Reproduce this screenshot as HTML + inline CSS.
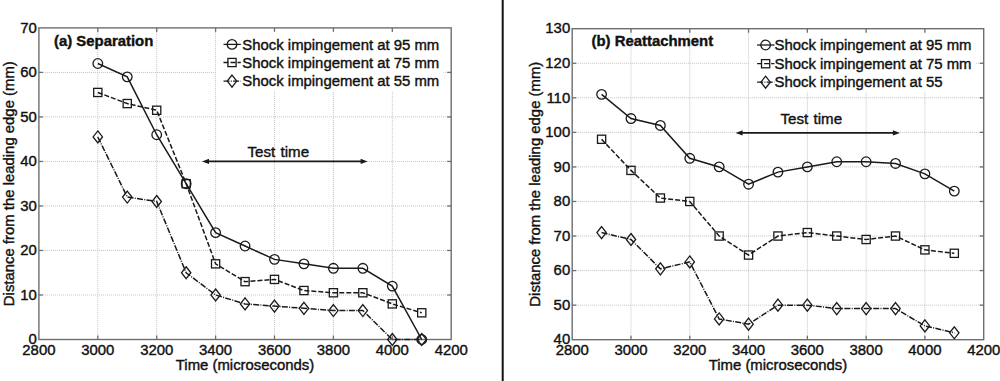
<!DOCTYPE html>
<html><head><meta charset="utf-8"><style>
html,body{margin:0;padding:0;background:#fff;}
body{width:1000px;height:381px;overflow:hidden;}
svg{display:block;}
text{font-family:"Liberation Sans",sans-serif;fill:#111;stroke:#111;stroke-width:0.4px;}
</style></head><body>
<svg width="1000" height="381" viewBox="0 0 1000 381">
<rect width="1000" height="381" fill="#fff"/>
<line x1="502.7" y1="0" x2="502.7" y2="381" stroke="#111" stroke-width="2"/>
<line x1="97.8" y1="27.9" x2="97.8" y2="339.5" stroke="#c2c2c2" stroke-width="1" stroke-dasharray="1 1"/>
<line x1="156.7" y1="27.9" x2="156.7" y2="339.5" stroke="#c2c2c2" stroke-width="1" stroke-dasharray="1 1"/>
<line x1="215.6" y1="27.9" x2="215.6" y2="339.5" stroke="#c2c2c2" stroke-width="1" stroke-dasharray="1 1"/>
<line x1="274.5" y1="27.9" x2="274.5" y2="339.5" stroke="#c2c2c2" stroke-width="1" stroke-dasharray="1 1"/>
<line x1="333.4" y1="27.9" x2="333.4" y2="339.5" stroke="#c2c2c2" stroke-width="1" stroke-dasharray="1 1"/>
<line x1="392.3" y1="27.9" x2="392.3" y2="339.5" stroke="#c2c2c2" stroke-width="1" stroke-dasharray="1 1"/>
<line x1="38.9" y1="294.99" x2="451.2" y2="294.99" stroke="#c2c2c2" stroke-width="1" stroke-dasharray="1 1"/>
<line x1="38.9" y1="250.47" x2="451.2" y2="250.47" stroke="#c2c2c2" stroke-width="1" stroke-dasharray="1 1"/>
<line x1="38.9" y1="205.96" x2="451.2" y2="205.96" stroke="#c2c2c2" stroke-width="1" stroke-dasharray="1 1"/>
<line x1="38.9" y1="161.44" x2="451.2" y2="161.44" stroke="#c2c2c2" stroke-width="1" stroke-dasharray="1 1"/>
<line x1="38.9" y1="116.93" x2="451.2" y2="116.93" stroke="#c2c2c2" stroke-width="1" stroke-dasharray="1 1"/>
<line x1="38.9" y1="72.41" x2="451.2" y2="72.41" stroke="#c2c2c2" stroke-width="1" stroke-dasharray="1 1"/>
<rect x="216.2" y="28.6" width="227.3" height="62.2" fill="#fff"/>
<rect x="38.9" y="27.9" width="412.3" height="311.6" fill="none" stroke="#6e6e6e" stroke-width="1.4"/>
<line x1="97.8" y1="339.5" x2="97.8" y2="335.5" stroke="#6e6e6e" stroke-width="1.3"/>
<line x1="97.8" y1="27.9" x2="97.8" y2="31.9" stroke="#6e6e6e" stroke-width="1.3"/>
<line x1="156.7" y1="339.5" x2="156.7" y2="335.5" stroke="#6e6e6e" stroke-width="1.3"/>
<line x1="156.7" y1="27.9" x2="156.7" y2="31.9" stroke="#6e6e6e" stroke-width="1.3"/>
<line x1="215.6" y1="339.5" x2="215.6" y2="335.5" stroke="#6e6e6e" stroke-width="1.3"/>
<line x1="215.6" y1="27.9" x2="215.6" y2="31.9" stroke="#6e6e6e" stroke-width="1.3"/>
<line x1="274.5" y1="339.5" x2="274.5" y2="335.5" stroke="#6e6e6e" stroke-width="1.3"/>
<line x1="274.5" y1="27.9" x2="274.5" y2="31.9" stroke="#6e6e6e" stroke-width="1.3"/>
<line x1="333.4" y1="339.5" x2="333.4" y2="335.5" stroke="#6e6e6e" stroke-width="1.3"/>
<line x1="333.4" y1="27.9" x2="333.4" y2="31.9" stroke="#6e6e6e" stroke-width="1.3"/>
<line x1="392.3" y1="339.5" x2="392.3" y2="335.5" stroke="#6e6e6e" stroke-width="1.3"/>
<line x1="392.3" y1="27.9" x2="392.3" y2="31.9" stroke="#6e6e6e" stroke-width="1.3"/>
<line x1="38.9" y1="294.99" x2="42.9" y2="294.99" stroke="#6e6e6e" stroke-width="1.3"/>
<line x1="451.2" y1="294.99" x2="447.2" y2="294.99" stroke="#6e6e6e" stroke-width="1.3"/>
<line x1="38.9" y1="250.47" x2="42.9" y2="250.47" stroke="#6e6e6e" stroke-width="1.3"/>
<line x1="451.2" y1="250.47" x2="447.2" y2="250.47" stroke="#6e6e6e" stroke-width="1.3"/>
<line x1="38.9" y1="205.96" x2="42.9" y2="205.96" stroke="#6e6e6e" stroke-width="1.3"/>
<line x1="451.2" y1="205.96" x2="447.2" y2="205.96" stroke="#6e6e6e" stroke-width="1.3"/>
<line x1="38.9" y1="161.44" x2="42.9" y2="161.44" stroke="#6e6e6e" stroke-width="1.3"/>
<line x1="451.2" y1="161.44" x2="447.2" y2="161.44" stroke="#6e6e6e" stroke-width="1.3"/>
<line x1="38.9" y1="116.93" x2="42.9" y2="116.93" stroke="#6e6e6e" stroke-width="1.3"/>
<line x1="451.2" y1="116.93" x2="447.2" y2="116.93" stroke="#6e6e6e" stroke-width="1.3"/>
<line x1="38.9" y1="72.41" x2="42.9" y2="72.41" stroke="#6e6e6e" stroke-width="1.3"/>
<line x1="451.2" y1="72.41" x2="447.2" y2="72.41" stroke="#6e6e6e" stroke-width="1.3"/>
<text x="38.9" y="354.8" text-anchor="middle" font-size="14.9">2800</text>
<text x="97.8" y="354.8" text-anchor="middle" font-size="14.9">3000</text>
<text x="156.7" y="354.8" text-anchor="middle" font-size="14.9">3200</text>
<text x="215.6" y="354.8" text-anchor="middle" font-size="14.9">3400</text>
<text x="274.5" y="354.8" text-anchor="middle" font-size="14.9">3600</text>
<text x="333.4" y="354.8" text-anchor="middle" font-size="14.9">3800</text>
<text x="392.3" y="354.8" text-anchor="middle" font-size="14.9">4000</text>
<text x="451.2" y="354.8" text-anchor="middle" font-size="14.9">4200</text>
<text x="36.9" y="344.2" text-anchor="end" font-size="14.9">0</text>
<text x="36.9" y="299.69" text-anchor="end" font-size="14.9">10</text>
<text x="36.9" y="255.17" text-anchor="end" font-size="14.9">20</text>
<text x="36.9" y="210.66" text-anchor="end" font-size="14.9">30</text>
<text x="36.9" y="166.14" text-anchor="end" font-size="14.9">40</text>
<text x="36.9" y="121.63" text-anchor="end" font-size="14.9">50</text>
<text x="36.9" y="77.11" text-anchor="end" font-size="14.9">60</text>
<text x="36.9" y="32.6" text-anchor="end" font-size="14.9">70</text>
<polyline points="97.8,63.51 127.25,76.87 156.7,134.73 186.15,183.7 215.6,232.67 245.05,246.02 274.5,259.37 303.95,263.83 333.4,268.28 362.85,268.28 392.3,286.08 421.75,339.5" fill="none" stroke="#1a1a1a" stroke-width="1.5" />
<circle cx="97.8" cy="63.51" r="4.8" fill="none" stroke="#1a1a1a" stroke-width="1.3"/>
<circle cx="127.25" cy="76.87" r="4.8" fill="none" stroke="#1a1a1a" stroke-width="1.3"/>
<circle cx="156.7" cy="134.73" r="4.8" fill="none" stroke="#1a1a1a" stroke-width="1.3"/>
<circle cx="186.15" cy="183.7" r="4.8" fill="none" stroke="#1a1a1a" stroke-width="1.3"/>
<circle cx="215.6" cy="232.67" r="4.8" fill="none" stroke="#1a1a1a" stroke-width="1.3"/>
<circle cx="245.05" cy="246.02" r="4.8" fill="none" stroke="#1a1a1a" stroke-width="1.3"/>
<circle cx="274.5" cy="259.37" r="4.8" fill="none" stroke="#1a1a1a" stroke-width="1.3"/>
<circle cx="303.95" cy="263.83" r="4.8" fill="none" stroke="#1a1a1a" stroke-width="1.3"/>
<circle cx="333.4" cy="268.28" r="4.8" fill="none" stroke="#1a1a1a" stroke-width="1.3"/>
<circle cx="362.85" cy="268.28" r="4.8" fill="none" stroke="#1a1a1a" stroke-width="1.3"/>
<circle cx="392.3" cy="286.08" r="4.8" fill="none" stroke="#1a1a1a" stroke-width="1.3"/>
<circle cx="421.75" cy="339.5" r="4.8" fill="none" stroke="#1a1a1a" stroke-width="1.3"/>
<polyline points="97.8,92.45 127.25,103.57 156.7,110.25 186.15,183.7 215.6,263.83 245.05,281.63 274.5,279.41 303.95,290.53 333.4,292.76 362.85,292.76 392.3,303.89 421.75,312.79" fill="none" stroke="#1a1a1a" stroke-width="1.5" stroke-dasharray="5 2"/>
<rect x="93.7" y="88.35" width="8.2" height="8.2" fill="none" stroke="#1a1a1a" stroke-width="1.3"/>
<rect x="123.15" y="99.47" width="8.2" height="8.2" fill="none" stroke="#1a1a1a" stroke-width="1.3"/>
<rect x="152.6" y="106.15" width="8.2" height="8.2" fill="none" stroke="#1a1a1a" stroke-width="1.3"/>
<rect x="182.05" y="179.6" width="8.2" height="8.2" fill="none" stroke="#1a1a1a" stroke-width="1.3"/>
<rect x="211.5" y="259.73" width="8.2" height="8.2" fill="none" stroke="#1a1a1a" stroke-width="1.3"/>
<rect x="240.95" y="277.53" width="8.2" height="8.2" fill="none" stroke="#1a1a1a" stroke-width="1.3"/>
<rect x="270.4" y="275.31" width="8.2" height="8.2" fill="none" stroke="#1a1a1a" stroke-width="1.3"/>
<rect x="299.85" y="286.43" width="8.2" height="8.2" fill="none" stroke="#1a1a1a" stroke-width="1.3"/>
<rect x="329.3" y="288.66" width="8.2" height="8.2" fill="none" stroke="#1a1a1a" stroke-width="1.3"/>
<rect x="358.75" y="288.66" width="8.2" height="8.2" fill="none" stroke="#1a1a1a" stroke-width="1.3"/>
<rect x="388.2" y="299.79" width="8.2" height="8.2" fill="none" stroke="#1a1a1a" stroke-width="1.3"/>
<rect x="417.65" y="308.69" width="8.2" height="8.2" fill="none" stroke="#1a1a1a" stroke-width="1.3"/>
<polyline points="97.8,136.96 127.25,197.05 156.7,201.51 186.15,272.73 215.6,294.99 245.05,303.89 274.5,306.11 303.95,308.34 333.4,310.57 362.85,310.57 392.3,339.5 421.75,339.5" fill="none" stroke="#1a1a1a" stroke-width="1.5" stroke-dasharray="6 1.3 1 1.3"/>
<path d="M97.8 130.96L102.5 136.96L97.8 142.96L93.1 136.96Z" fill="none" stroke="#1a1a1a" stroke-width="1.3"/>
<path d="M127.25 191.05L131.95 197.05L127.25 203.05L122.55 197.05Z" fill="none" stroke="#1a1a1a" stroke-width="1.3"/>
<path d="M156.7 195.51L161.4 201.51L156.7 207.51L152 201.51Z" fill="none" stroke="#1a1a1a" stroke-width="1.3"/>
<path d="M186.15 266.73L190.85 272.73L186.15 278.73L181.45 272.73Z" fill="none" stroke="#1a1a1a" stroke-width="1.3"/>
<path d="M215.6 288.99L220.3 294.99L215.6 300.99L210.9 294.99Z" fill="none" stroke="#1a1a1a" stroke-width="1.3"/>
<path d="M245.05 297.89L249.75 303.89L245.05 309.89L240.35 303.89Z" fill="none" stroke="#1a1a1a" stroke-width="1.3"/>
<path d="M274.5 300.11L279.2 306.11L274.5 312.11L269.8 306.11Z" fill="none" stroke="#1a1a1a" stroke-width="1.3"/>
<path d="M303.95 302.34L308.65 308.34L303.95 314.34L299.25 308.34Z" fill="none" stroke="#1a1a1a" stroke-width="1.3"/>
<path d="M333.4 304.57L338.1 310.57L333.4 316.57L328.7 310.57Z" fill="none" stroke="#1a1a1a" stroke-width="1.3"/>
<path d="M362.85 304.57L367.55 310.57L362.85 316.57L358.15 310.57Z" fill="none" stroke="#1a1a1a" stroke-width="1.3"/>
<path d="M392.3 333.5L397 339.5L392.3 345.5L387.6 339.5Z" fill="none" stroke="#1a1a1a" stroke-width="1.3"/>
<path d="M421.75 333.5L426.45 339.5L421.75 345.5L417.05 339.5Z" fill="none" stroke="#1a1a1a" stroke-width="1.3"/>
<line x1="206" y1="161.4" x2="363.6" y2="161.4" stroke="#1a1a1a" stroke-width="1.6"/>
<path d="M202 161.4L209 158.8L209 164Z" fill="#1a1a1a"/>
<path d="M367.6 161.4L360.6 158.8L360.6 164Z" fill="#1a1a1a"/>
<text x="247.5" y="156.6" font-size="15.1" word-spacing="1.2">Test time</text>
<text x="54" y="45.6" font-size="14.9" font-weight="bold">(a) Separation</text>
<line x1="223.5" y1="44.4" x2="240.8" y2="44.4" stroke="#1a1a1a" stroke-width="1.3" />
<circle cx="232" cy="44.4" r="4.8" fill="none" stroke="#1a1a1a" stroke-width="1.3"/>
<text x="242.3" y="49.6" font-size="14.9">Shock impingement at 95 mm</text>
<line x1="223.5" y1="62.5" x2="240.8" y2="62.5" stroke="#1a1a1a" stroke-width="1.3" stroke-dasharray="5 2"/>
<rect x="227.9" y="58.4" width="8.2" height="8.2" fill="none" stroke="#1a1a1a" stroke-width="1.3"/>
<text x="242.3" y="67.7" font-size="14.9">Shock impingement at 75 mm</text>
<line x1="223.5" y1="81.1" x2="240.8" y2="81.1" stroke="#1a1a1a" stroke-width="1.3" stroke-dasharray="6 1.3 1 1.3"/>
<path d="M232 75.1L236.7 81.1L232 87.1L227.3 81.1Z" fill="none" stroke="#1a1a1a" stroke-width="1.3"/>
<text x="242.3" y="86.3" font-size="14.9">Shock impingement at 55 mm</text>
<text x="245.05" y="369.5" text-anchor="middle" font-size="14.9">Time (microseconds)</text>
<text transform="translate(14.3,183.7) rotate(-90)" text-anchor="middle" font-size="14.9">Distance from the leading edge (mm)</text>
<line x1="630.99" y1="28.7" x2="630.99" y2="339.7" stroke="#c2c2c2" stroke-width="1" stroke-dasharray="1 1"/>
<line x1="689.77" y1="28.7" x2="689.77" y2="339.7" stroke="#c2c2c2" stroke-width="1" stroke-dasharray="1 1"/>
<line x1="748.56" y1="28.7" x2="748.56" y2="339.7" stroke="#c2c2c2" stroke-width="1" stroke-dasharray="1 1"/>
<line x1="807.34" y1="28.7" x2="807.34" y2="339.7" stroke="#c2c2c2" stroke-width="1" stroke-dasharray="1 1"/>
<line x1="866.13" y1="28.7" x2="866.13" y2="339.7" stroke="#c2c2c2" stroke-width="1" stroke-dasharray="1 1"/>
<line x1="924.91" y1="28.7" x2="924.91" y2="339.7" stroke="#c2c2c2" stroke-width="1" stroke-dasharray="1 1"/>
<line x1="572.2" y1="305.14" x2="983.7" y2="305.14" stroke="#c2c2c2" stroke-width="1" stroke-dasharray="1 1"/>
<line x1="572.2" y1="270.59" x2="983.7" y2="270.59" stroke="#c2c2c2" stroke-width="1" stroke-dasharray="1 1"/>
<line x1="572.2" y1="236.03" x2="983.7" y2="236.03" stroke="#c2c2c2" stroke-width="1" stroke-dasharray="1 1"/>
<line x1="572.2" y1="201.48" x2="983.7" y2="201.48" stroke="#c2c2c2" stroke-width="1" stroke-dasharray="1 1"/>
<line x1="572.2" y1="166.92" x2="983.7" y2="166.92" stroke="#c2c2c2" stroke-width="1" stroke-dasharray="1 1"/>
<line x1="572.2" y1="132.37" x2="983.7" y2="132.37" stroke="#c2c2c2" stroke-width="1" stroke-dasharray="1 1"/>
<line x1="572.2" y1="97.81" x2="983.7" y2="97.81" stroke="#c2c2c2" stroke-width="1" stroke-dasharray="1 1"/>
<line x1="572.2" y1="63.26" x2="983.7" y2="63.26" stroke="#c2c2c2" stroke-width="1" stroke-dasharray="1 1"/>
<rect x="749.3" y="29.4" width="226.7" height="62.6" fill="#fff"/>
<rect x="572.2" y="28.7" width="411.5" height="311" fill="none" stroke="#6e6e6e" stroke-width="1.4"/>
<line x1="630.99" y1="339.7" x2="630.99" y2="335.7" stroke="#6e6e6e" stroke-width="1.3"/>
<line x1="630.99" y1="28.7" x2="630.99" y2="32.7" stroke="#6e6e6e" stroke-width="1.3"/>
<line x1="689.77" y1="339.7" x2="689.77" y2="335.7" stroke="#6e6e6e" stroke-width="1.3"/>
<line x1="689.77" y1="28.7" x2="689.77" y2="32.7" stroke="#6e6e6e" stroke-width="1.3"/>
<line x1="748.56" y1="339.7" x2="748.56" y2="335.7" stroke="#6e6e6e" stroke-width="1.3"/>
<line x1="748.56" y1="28.7" x2="748.56" y2="32.7" stroke="#6e6e6e" stroke-width="1.3"/>
<line x1="807.34" y1="339.7" x2="807.34" y2="335.7" stroke="#6e6e6e" stroke-width="1.3"/>
<line x1="807.34" y1="28.7" x2="807.34" y2="32.7" stroke="#6e6e6e" stroke-width="1.3"/>
<line x1="866.13" y1="339.7" x2="866.13" y2="335.7" stroke="#6e6e6e" stroke-width="1.3"/>
<line x1="866.13" y1="28.7" x2="866.13" y2="32.7" stroke="#6e6e6e" stroke-width="1.3"/>
<line x1="924.91" y1="339.7" x2="924.91" y2="335.7" stroke="#6e6e6e" stroke-width="1.3"/>
<line x1="924.91" y1="28.7" x2="924.91" y2="32.7" stroke="#6e6e6e" stroke-width="1.3"/>
<line x1="572.2" y1="305.14" x2="576.2" y2="305.14" stroke="#6e6e6e" stroke-width="1.3"/>
<line x1="983.7" y1="305.14" x2="979.7" y2="305.14" stroke="#6e6e6e" stroke-width="1.3"/>
<line x1="572.2" y1="270.59" x2="576.2" y2="270.59" stroke="#6e6e6e" stroke-width="1.3"/>
<line x1="983.7" y1="270.59" x2="979.7" y2="270.59" stroke="#6e6e6e" stroke-width="1.3"/>
<line x1="572.2" y1="236.03" x2="576.2" y2="236.03" stroke="#6e6e6e" stroke-width="1.3"/>
<line x1="983.7" y1="236.03" x2="979.7" y2="236.03" stroke="#6e6e6e" stroke-width="1.3"/>
<line x1="572.2" y1="201.48" x2="576.2" y2="201.48" stroke="#6e6e6e" stroke-width="1.3"/>
<line x1="983.7" y1="201.48" x2="979.7" y2="201.48" stroke="#6e6e6e" stroke-width="1.3"/>
<line x1="572.2" y1="166.92" x2="576.2" y2="166.92" stroke="#6e6e6e" stroke-width="1.3"/>
<line x1="983.7" y1="166.92" x2="979.7" y2="166.92" stroke="#6e6e6e" stroke-width="1.3"/>
<line x1="572.2" y1="132.37" x2="576.2" y2="132.37" stroke="#6e6e6e" stroke-width="1.3"/>
<line x1="983.7" y1="132.37" x2="979.7" y2="132.37" stroke="#6e6e6e" stroke-width="1.3"/>
<line x1="572.2" y1="97.81" x2="576.2" y2="97.81" stroke="#6e6e6e" stroke-width="1.3"/>
<line x1="983.7" y1="97.81" x2="979.7" y2="97.81" stroke="#6e6e6e" stroke-width="1.3"/>
<line x1="572.2" y1="63.26" x2="576.2" y2="63.26" stroke="#6e6e6e" stroke-width="1.3"/>
<line x1="983.7" y1="63.26" x2="979.7" y2="63.26" stroke="#6e6e6e" stroke-width="1.3"/>
<text x="572.2" y="355" text-anchor="middle" font-size="14.9">2800</text>
<text x="630.99" y="355" text-anchor="middle" font-size="14.9">3000</text>
<text x="689.77" y="355" text-anchor="middle" font-size="14.9">3200</text>
<text x="748.56" y="355" text-anchor="middle" font-size="14.9">3400</text>
<text x="807.34" y="355" text-anchor="middle" font-size="14.9">3600</text>
<text x="866.13" y="355" text-anchor="middle" font-size="14.9">3800</text>
<text x="924.91" y="355" text-anchor="middle" font-size="14.9">4000</text>
<text x="983.7" y="355" text-anchor="middle" font-size="14.9">4200</text>
<text x="570.2" y="344.4" text-anchor="end" font-size="14.9">40</text>
<text x="570.2" y="309.84" text-anchor="end" font-size="14.9">50</text>
<text x="570.2" y="275.29" text-anchor="end" font-size="14.9">60</text>
<text x="570.2" y="240.73" text-anchor="end" font-size="14.9">70</text>
<text x="570.2" y="206.18" text-anchor="end" font-size="14.9">80</text>
<text x="570.2" y="171.62" text-anchor="end" font-size="14.9">90</text>
<text x="570.2" y="137.07" text-anchor="end" font-size="14.9">100</text>
<text x="570.2" y="102.51" text-anchor="end" font-size="14.9">110</text>
<text x="570.2" y="67.96" text-anchor="end" font-size="14.9">120</text>
<text x="570.2" y="33.4" text-anchor="end" font-size="14.9">130</text>
<polyline points="601.59,94.36 630.99,118.54 660.38,125.46 689.77,158.28 719.16,166.92 748.56,184.2 777.95,172.11 807.34,166.92 836.74,161.74 866.13,161.74 895.52,163.47 924.91,173.83 954.31,191.11" fill="none" stroke="#1a1a1a" stroke-width="1.5" />
<circle cx="601.59" cy="94.36" r="4.8" fill="none" stroke="#1a1a1a" stroke-width="1.3"/>
<circle cx="630.99" cy="118.54" r="4.8" fill="none" stroke="#1a1a1a" stroke-width="1.3"/>
<circle cx="660.38" cy="125.46" r="4.8" fill="none" stroke="#1a1a1a" stroke-width="1.3"/>
<circle cx="689.77" cy="158.28" r="4.8" fill="none" stroke="#1a1a1a" stroke-width="1.3"/>
<circle cx="719.16" cy="166.92" r="4.8" fill="none" stroke="#1a1a1a" stroke-width="1.3"/>
<circle cx="748.56" cy="184.2" r="4.8" fill="none" stroke="#1a1a1a" stroke-width="1.3"/>
<circle cx="777.95" cy="172.11" r="4.8" fill="none" stroke="#1a1a1a" stroke-width="1.3"/>
<circle cx="807.34" cy="166.92" r="4.8" fill="none" stroke="#1a1a1a" stroke-width="1.3"/>
<circle cx="836.74" cy="161.74" r="4.8" fill="none" stroke="#1a1a1a" stroke-width="1.3"/>
<circle cx="866.13" cy="161.74" r="4.8" fill="none" stroke="#1a1a1a" stroke-width="1.3"/>
<circle cx="895.52" cy="163.47" r="4.8" fill="none" stroke="#1a1a1a" stroke-width="1.3"/>
<circle cx="924.91" cy="173.83" r="4.8" fill="none" stroke="#1a1a1a" stroke-width="1.3"/>
<circle cx="954.31" cy="191.11" r="4.8" fill="none" stroke="#1a1a1a" stroke-width="1.3"/>
<polyline points="601.59,139.28 630.99,170.38 660.38,198.02 689.77,201.48 719.16,236.03 748.56,255.04 777.95,236.03 807.34,232.58 836.74,236.03 866.13,239.49 895.52,236.03 924.91,249.86 954.31,253.31" fill="none" stroke="#1a1a1a" stroke-width="1.5" stroke-dasharray="5 2"/>
<rect x="597.49" y="135.18" width="8.2" height="8.2" fill="none" stroke="#1a1a1a" stroke-width="1.3"/>
<rect x="626.89" y="166.28" width="8.2" height="8.2" fill="none" stroke="#1a1a1a" stroke-width="1.3"/>
<rect x="656.28" y="193.92" width="8.2" height="8.2" fill="none" stroke="#1a1a1a" stroke-width="1.3"/>
<rect x="685.67" y="197.38" width="8.2" height="8.2" fill="none" stroke="#1a1a1a" stroke-width="1.3"/>
<rect x="715.06" y="231.93" width="8.2" height="8.2" fill="none" stroke="#1a1a1a" stroke-width="1.3"/>
<rect x="744.46" y="250.94" width="8.2" height="8.2" fill="none" stroke="#1a1a1a" stroke-width="1.3"/>
<rect x="773.85" y="231.93" width="8.2" height="8.2" fill="none" stroke="#1a1a1a" stroke-width="1.3"/>
<rect x="803.24" y="228.48" width="8.2" height="8.2" fill="none" stroke="#1a1a1a" stroke-width="1.3"/>
<rect x="832.64" y="231.93" width="8.2" height="8.2" fill="none" stroke="#1a1a1a" stroke-width="1.3"/>
<rect x="862.03" y="235.39" width="8.2" height="8.2" fill="none" stroke="#1a1a1a" stroke-width="1.3"/>
<rect x="891.42" y="231.93" width="8.2" height="8.2" fill="none" stroke="#1a1a1a" stroke-width="1.3"/>
<rect x="920.81" y="245.76" width="8.2" height="8.2" fill="none" stroke="#1a1a1a" stroke-width="1.3"/>
<rect x="950.21" y="249.21" width="8.2" height="8.2" fill="none" stroke="#1a1a1a" stroke-width="1.3"/>
<polyline points="601.59,232.58 630.99,239.49 660.38,268.86 689.77,261.95 719.16,318.97 748.56,324.15 777.95,305.14 807.34,305.14 836.74,308.6 866.13,308.6 895.52,308.6 924.91,325.88 954.31,332.79" fill="none" stroke="#1a1a1a" stroke-width="1.5" stroke-dasharray="6 1.3 1 1.3"/>
<path d="M601.59 226.58L606.29 232.58L601.59 238.58L596.89 232.58Z" fill="none" stroke="#1a1a1a" stroke-width="1.3"/>
<path d="M630.99 233.49L635.69 239.49L630.99 245.49L626.29 239.49Z" fill="none" stroke="#1a1a1a" stroke-width="1.3"/>
<path d="M660.38 262.86L665.08 268.86L660.38 274.86L655.68 268.86Z" fill="none" stroke="#1a1a1a" stroke-width="1.3"/>
<path d="M689.77 255.95L694.47 261.95L689.77 267.95L685.07 261.95Z" fill="none" stroke="#1a1a1a" stroke-width="1.3"/>
<path d="M719.16 312.97L723.86 318.97L719.16 324.97L714.46 318.97Z" fill="none" stroke="#1a1a1a" stroke-width="1.3"/>
<path d="M748.56 318.15L753.26 324.15L748.56 330.15L743.86 324.15Z" fill="none" stroke="#1a1a1a" stroke-width="1.3"/>
<path d="M777.95 299.14L782.65 305.14L777.95 311.14L773.25 305.14Z" fill="none" stroke="#1a1a1a" stroke-width="1.3"/>
<path d="M807.34 299.14L812.04 305.14L807.34 311.14L802.64 305.14Z" fill="none" stroke="#1a1a1a" stroke-width="1.3"/>
<path d="M836.74 302.6L841.44 308.6L836.74 314.6L832.04 308.6Z" fill="none" stroke="#1a1a1a" stroke-width="1.3"/>
<path d="M866.13 302.6L870.83 308.6L866.13 314.6L861.43 308.6Z" fill="none" stroke="#1a1a1a" stroke-width="1.3"/>
<path d="M895.52 302.6L900.22 308.6L895.52 314.6L890.82 308.6Z" fill="none" stroke="#1a1a1a" stroke-width="1.3"/>
<path d="M924.91 319.88L929.61 325.88L924.91 331.88L920.21 325.88Z" fill="none" stroke="#1a1a1a" stroke-width="1.3"/>
<path d="M954.31 326.79L959.01 332.79L954.31 338.79L949.61 332.79Z" fill="none" stroke="#1a1a1a" stroke-width="1.3"/>
<line x1="739.6" y1="132.9" x2="895.9" y2="132.9" stroke="#1a1a1a" stroke-width="1.6"/>
<path d="M735.6 132.9L742.6 130.3L742.6 135.5Z" fill="#1a1a1a"/>
<path d="M899.9 132.9L892.9 130.3L892.9 135.5Z" fill="#1a1a1a"/>
<text x="780.5" y="124.3" font-size="15.1" word-spacing="1.2">Test time</text>
<text x="591.5" y="45.5" font-size="14.9" font-weight="bold">(b) Reattachment</text>
<line x1="757.1" y1="45" x2="774.4" y2="45" stroke="#1a1a1a" stroke-width="1.3" />
<circle cx="765.6" cy="45" r="4.8" fill="none" stroke="#1a1a1a" stroke-width="1.3"/>
<text x="774.5" y="50.2" font-size="14.9">Shock impingement at 95 mm</text>
<line x1="757.1" y1="63.7" x2="774.4" y2="63.7" stroke="#1a1a1a" stroke-width="1.3" stroke-dasharray="5 2"/>
<rect x="761.5" y="59.6" width="8.2" height="8.2" fill="none" stroke="#1a1a1a" stroke-width="1.3"/>
<text x="774.5" y="68.9" font-size="14.9">Shock impingement at 75 mm</text>
<line x1="757.1" y1="82.2" x2="774.4" y2="82.2" stroke="#1a1a1a" stroke-width="1.3" stroke-dasharray="6 1.3 1 1.3"/>
<path d="M765.6 76.2L770.3 82.2L765.6 88.2L760.9 82.2Z" fill="none" stroke="#1a1a1a" stroke-width="1.3"/>
<text x="774.5" y="87.4" font-size="14.9">Shock impingement at 55</text>
<text x="777.95" y="369.7" text-anchor="middle" font-size="14.9">Time (microseconds)</text>
<text transform="translate(539.7,184.2) rotate(-90)" text-anchor="middle" font-size="14.9">Distance from the leading edge (mm)</text>
</svg>
</body></html>
